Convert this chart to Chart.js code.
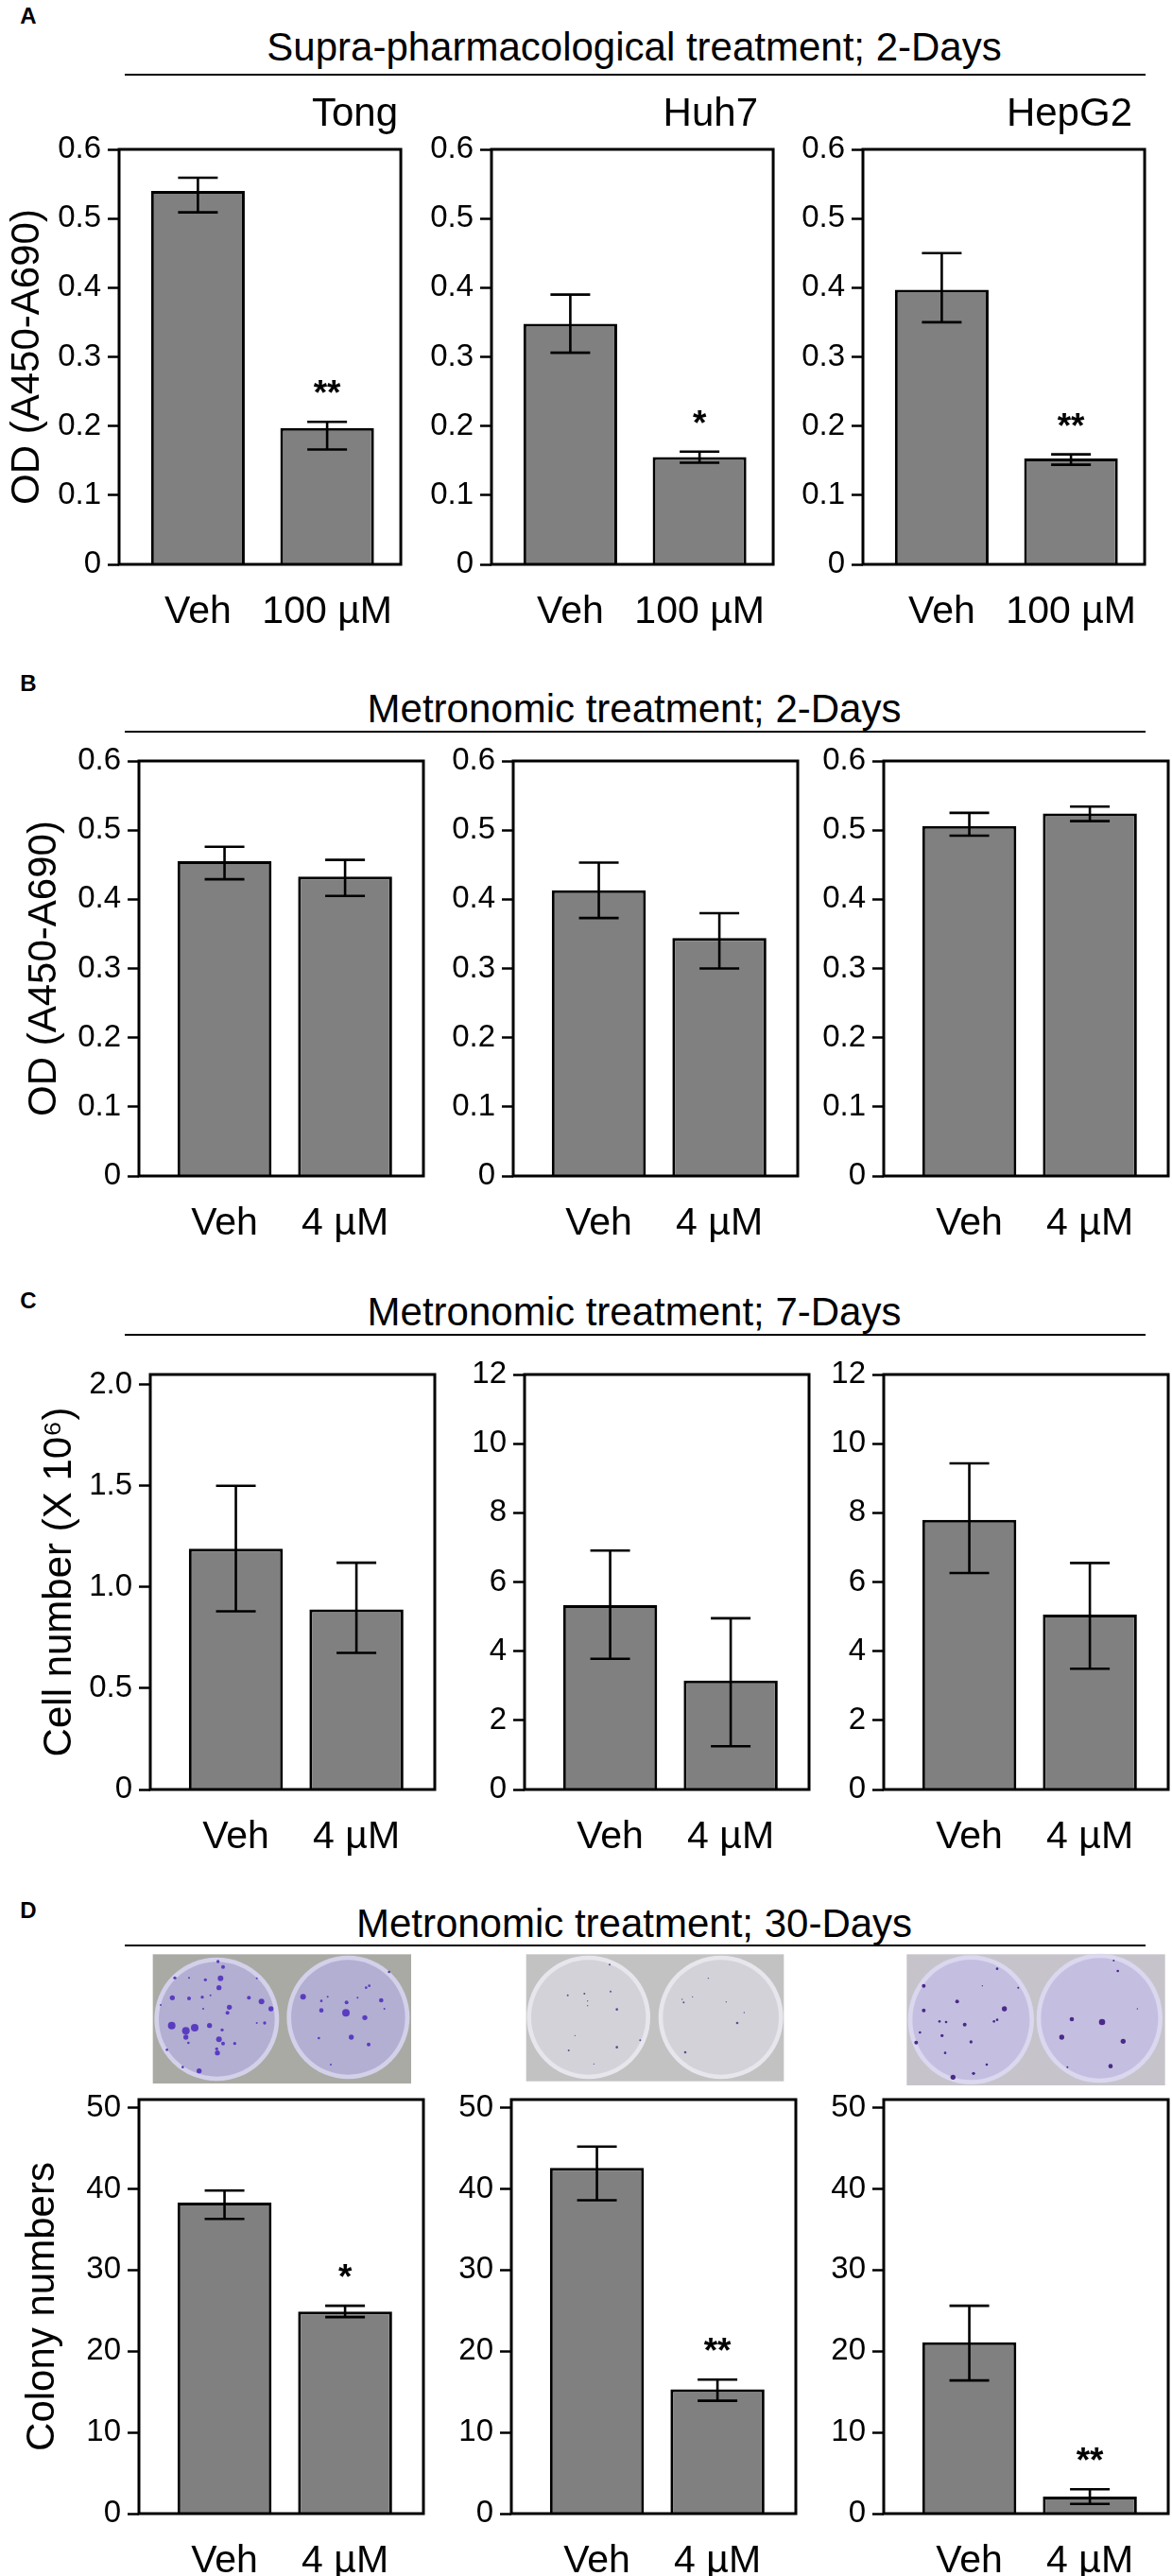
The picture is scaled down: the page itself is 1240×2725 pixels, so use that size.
<!DOCTYPE html>
<html>
<head>
<meta charset="utf-8">
<script src="https://cdn.jsdelivr.net/npm/chart.js@4.4.1/dist/chart.umd.min.js"></script>
<style>
  body { margin: 0; background: #fff; width: 1240px; height: 2725px; position: relative; overflow: hidden;
         font-family: "Liberation Sans", Arial, sans-serif; color: #000; }
  canvas { position: absolute; }
  .hdr { position: absolute; font-size: 42px; line-height: 1; white-space: nowrap; transform: translate(-50%, -50%); }
  .sub { position: absolute; font-size: 42px; line-height: 1; white-space: nowrap; transform: translateY(-50%); text-align: right; }
  .letter { position: absolute; font-size: 24px; font-weight: bold; line-height: 1; transform: translate(-50%, -50%); }
  .rule { position: absolute; height: 0; border-top: 2px solid #000; }
</style>
</head>
<body>

<script>
// ---- data ----
const supraCats = ['Veh', '100 µM'];
const metroCats = ['Veh', '4 µM'];
const cellLines = ['Tong', 'Huh7', 'HepG2'];

// A: supra-pharmacological treatment, 2 days (OD)
const supraMean = [[0.540, 0.197], [0.348, 0.155], [0.397, 0.153]];
const supraHigh = [[0.559, 0.206], [0.390, 0.163], [0.450, 0.159]];
const supraLow  = [[0.509, 0.166], [0.306, 0.147], [0.350, 0.144]];
const supraStars = [['', '**'], ['', '*'], ['', '**']];

// B: metronomic treatment, 2 days (OD)
const metro2Mean = [[0.455, 0.433], [0.413, 0.344], [0.506, 0.524]];
const metro2High = [[0.476, 0.457], [0.453, 0.380], [0.525, 0.534]];
const metro2Low  = [[0.429, 0.405], [0.373, 0.300], [0.492, 0.513]];

// C: metronomic treatment, 7 days (cell number x 10^6)
const metro7Mean = [[1.19, 0.89], [5.33, 3.15], [7.80, 5.06]];
const metro7High = [[1.50, 1.12], [6.91, 4.95], [9.43, 6.55]];
const metro7Low  = [[0.88, 0.675], [3.78, 1.25], [6.26, 3.49]];

// D: metronomic treatment, 30 days (colony numbers)
const colonyMean = [[38.3, 24.9], [42.6, 15.3], [21.1, 2.1]];
const colonyHigh = [[39.8, 25.6], [45.2, 16.5], [25.6, 3.0]];
const colonyLow  = [[36.3, 24.2], [38.6, 13.9], [16.4, 1.2]];
const colonyStars = [['', '*'], ['', '**'], ['', '**']];

const noStars = [['', ''], ['', ''], ['', '']];

// tick labels
const odTicks = ['0', '0.1', '0.2', '0.3', '0.4', '0.5', '0.6'];
const cellTicksSmall = ['0', '0.5', '1.0', '1.5', '2.0'];
const cellTicksLarge = ['0', '2', '4', '6', '8', '10', '12'];
const colonyTicks = ['0', '10', '20', '30', '40', '50'];

// ---- layout ----
const FONT = '"Liberation Sans", Arial, sans-serif';
Chart.defaults.font.family = FONT;
Chart.defaults.color = '#000';

const rows = [
  { top: 158, bottom: 597, lefts: [126, 520, 913], x: [-0.61, 1.57], bar: 0.725, titlePad: 4,
    yTitle: 'OD (A450-A690)', cats: supraCats,
    mean: supraMean, high: supraHigh, low: supraLow, stars: supraStars,
    yMax: [0.6, 0.6, 0.6], ticks: [odTicks, odTicks, odTicks] },
  { top: 805, bottom: 1244, lefts: [147, 543, 935], x: [-0.71, 1.65], bar: 0.78, titlePad: 22,
    yTitle: 'OD (A450-A690)', cats: metroCats,
    mean: metro2Mean, high: metro2High, low: metro2Low, stars: noStars,
    yMax: [0.6, 0.6, 0.6], ticks: [odTicks, odTicks, odTicks] },
  { top: 1454, bottom: 1893, lefts: [159, 555, 935], x: [-0.71, 1.65], bar: 0.78, titlePad: 38,
    yTitle: 'Cell number (X 10\u2076)', cats: metroCats,
    mean: metro7Mean, high: metro7High, low: metro7Low, stars: noStars,
    yMax: [2.05, 12, 12], ticks: [cellTicksSmall, cellTicksLarge, cellTicksLarge] },
  { top: 2221, bottom: 2659, lefts: [147, 541, 935], x: [-0.71, 1.65], bar: 0.78, titlePad: 20,
    yTitle: 'Colony numbers', cats: metroCats,
    mean: colonyMean, high: colonyHigh, low: colonyLow, stars: colonyStars,
    yMax: [51, 51, 51], ticks: [colonyTicks, colonyTicks, colonyTicks] }
];

const BOX_W = 301, PAD_TOP = 30, PAD_RIGHT = 8, X_AXIS_H = 75;

// error bars, significance stars and the plot frame
const errorBars = {
  id: 'errorBars',
  afterDatasetsDraw(chart) {
    const ctx = chart.ctx;
    const y = chart.scales.y;
    const ds = chart.data.datasets[0];
    const meta = chart.getDatasetMeta(0);
    ctx.save();
    ctx.strokeStyle = '#000';
    ctx.fillStyle = '#000';
    ctx.lineWidth = 2.6;
    meta.data.forEach((bar, i) => {
      const hi = y.getPixelForValue(ds.errHigh[i]);
      const lo = y.getPixelForValue(ds.errLow[i]);
      ctx.beginPath();
      ctx.moveTo(bar.x, hi); ctx.lineTo(bar.x, lo);
      ctx.moveTo(bar.x - 21, hi); ctx.lineTo(bar.x + 21, hi);
      ctx.moveTo(bar.x - 21, lo); ctx.lineTo(bar.x + 21, lo);
      ctx.stroke();
      if (ds.stars[i]) {
        ctx.font = 'bold 37px ' + FONT;
        ctx.textAlign = 'center';
        ctx.textBaseline = 'alphabetic';
        ctx.fillText(ds.stars[i], bar.x, hi - 18);
      }
    });
    const a = chart.chartArea;
    ctx.lineWidth = 3;
    ctx.strokeRect(a.left, a.top, a.right - a.left, a.bottom - a.top);
    ctx.restore();
  }
};

rows.forEach((row) => {
  row.lefts.forEach((boxLeft, c) => {
    const yW = c === 0 ? boxLeft : 90;
    const el = document.createElement('canvas');
    const w = yW + BOX_W + PAD_RIGHT;
    const h = PAD_TOP + (row.bottom - row.top) + X_AXIS_H;
    el.width = w; el.height = h;
    el.style.left = (boxLeft - yW) + 'px';
    el.style.top = (row.top - PAD_TOP) + 'px';
    document.body.appendChild(el);

    const tickLabels = row.ticks[c];
    new Chart(el, {
      type: 'bar',
      data: {
        datasets: [{
          data: row.mean[c].map((v, i) => ({ x: i, y: v })),
          errHigh: row.high[c],
          errLow: row.low[c],
          stars: row.stars[c],
          backgroundColor: '#808080',
          borderColor: '#000',
          borderWidth: 3,
          categoryPercentage: 1,
          barPercentage: row.bar
        }]
      },
      options: {
        responsive: false,
        animation: false,
        layout: { padding: { top: PAD_TOP, right: PAD_RIGHT, left: 0, bottom: 0 } },
        plugins: { legend: { display: false }, tooltip: { enabled: false } },
        scales: {
          x: {
            type: 'linear',
            offset: false,
            min: row.x[0], max: row.x[1],
            grid: { display: false },
            border: { display: false },
            afterBuildTicks: (axis) => { axis.ticks = row.cats.map((_, i) => ({ value: i })); },
            afterFit: (axis) => { axis.height = X_AXIS_H; },
            ticks: {
              autoSkip: false, maxRotation: 0, padding: 18,
              font: { size: 41 },
              callback: (v) => row.cats[v]
            }
          },
          y: {
            min: 0, max: row.yMax[c],
            grid: { drawOnChartArea: false, drawTicks: true, tickLength: 12, tickWidth: 2.5, tickColor: '#000' },
            border: { display: false },
            afterBuildTicks: (axis) => { axis.ticks = tickLabels.map(l => ({ value: Number(l) })); },
            afterFit: (axis) => { axis.width = yW; },
            ticks: {
              padding: 7,
              font: { size: 33 },
              callback: (v) => tickLabels.find(l => Number(l) === v)
            },
            title: {
              display: c === 0,
              text: row.yTitle,
              font: { size: 42 },
              padding: { top: row.titlePad, bottom: 0 }
            }
          }
        }
      },
      plugins: [errorBars]
    });
  });
});

// ---- headers ----
const headers = [
  { letter: 'A', ly: 17, text: 'Supra-pharmacological treatment; 2-Days', ty: 50, rule: 79 },
  { letter: 'B', ly: 723, text: 'Metronomic treatment; 2-Days', ty: 750, rule: 774 },
  { letter: 'C', ly: 1376, text: 'Metronomic treatment; 7-Days', ty: 1388, rule: 1412 },
  { letter: 'D', ly: 2021, text: 'Metronomic treatment; 30-Days', ty: 2035, rule: 2058 }
];
headers.forEach(hd => {
  const l = document.createElement('div');
  l.className = 'letter'; l.textContent = hd.letter;
  l.style.left = '30px'; l.style.top = hd.ly + 'px';
  document.body.appendChild(l);
  const t = document.createElement('div');
  t.className = 'hdr'; t.textContent = hd.text;
  t.style.left = '671px'; t.style.top = hd.ty + 'px';
  document.body.appendChild(t);
  const r = document.createElement('div');
  r.className = 'rule';
  r.style.left = '132px'; r.style.width = '1080px'; r.style.top = (hd.rule - 1) + 'px';
  document.body.appendChild(r);
});

// cell line names above panel A
const subRight = [421, 802, 1198];
cellLines.forEach((name, i) => {
  const s = document.createElement('div');
  s.className = 'sub'; s.textContent = name;
  s.style.right = (1240 - subRight[i]) + 'px'; s.style.top = '119px';
  document.body.appendChild(s);
});

// ---- colony plate photos (drawn, coordinates in 3x crop units) ----
const plates = [
  { x: 150, y: 2060, bg: [35, 22, 855, 432], bgColor: '#a9aaa4', fill: '#b3afd3', rim: '#d3d1e9', dotColor: '#5a3cc0',
    dishes: [[238, 228, 198, 196], [655, 222, 195, 196]],
    dots: [[242,45,5],[258,62,6],[250,98,9],[245,128,8],[202,103,5],[105,97,5],[150,97,3],[97,160,8],[150,162,6],
           [192,158,5],[218,152,3],[278,190,8],[340,160,6],[380,172,9],[410,195,8],[195,195,3],[272,208,6],[95,248,12],
           [140,265,12],[168,255,12],[215,248,8],[140,285,8],[255,262,5],[245,292,9],[258,305,6],[295,305,5],[390,240,5],
           [365,240,3],[240,335,8],[238,322,5],[148,303,4],[80,325,4],[182,392,8],[130,380,4],[60,183,3],[365,98,3],
           [512,157,9],[570,170,4],[590,157,3],[570,200,7],[648,208,12],[650,175,6],[708,223,8],[760,168,7],[712,128,4],
           [722,122,4],[685,160,3],[665,285,8],[720,308,6],[562,288,4],[785,78,4],[600,372,3],[770,195,3]] },
  { x: 540, y: 2060, bg: [50, 22, 868, 425], bgColor: '#c2c2c2', fill: '#d3d2d9', rim: '#e6e6ec', dotColor: '#58508f',
    dishes: [[248, 222, 196, 196], [668, 222, 198, 196]],
    dots: [[182,152,3],[235,147,3],[318,140,3],[338,197,4],[245,170,2],[245,185,2],[412,295,3],[338,317,4],
           [185,327,3],[265,370,2],[315,55,3],[205,280,2],
           [628,98,2],[550,175,3],[578,157,2],[685,173,2],[720,240,4],[742,207,2],[555,333,4],[545,165,2]] },
  { x: 940, y: 2060, bg: [58, 22, 878, 438], bgColor: '#c6c4ca', fill: '#c4bfe0', rim: '#dad7ef', dotColor: '#4a2a8a',
    dishes: [[262, 230, 200, 205], [670, 225, 200, 205]],
    dots: [[345,68,4],[112,122,6],[298,122,2],[412,128,3],[218,172,6],[112,200,6],[368,195,8],[162,235,4],[183,237,4],
           [242,245,6],[335,235,4],[345,230,4],[100,270,4],[170,280,5],[88,302,6],[262,300,5],[180,335,4],[312,372,4],
           [270,400,5],[205,412,8],[715,42,3],[728,75,4],[582,228,7],[678,237,10],[550,285,8],[745,298,8],[705,377,7],
           [568,380,3],[790,195,2]] }
];
plates.forEach(p => {
  const cv = document.createElement('canvas');
  cv.width = 300; cv.height = 150;
  cv.style.left = p.x + 'px'; cv.style.top = p.y + 'px';
  document.body.appendChild(cv);
  const ctx = cv.getContext('2d');
  ctx.scale(1 / 3, 1 / 3);
  ctx.fillStyle = p.bgColor;
  ctx.fillRect(p.bg[0], p.bg[1], p.bg[2] - p.bg[0], p.bg[3] - p.bg[1]);
  p.dishes.forEach(d => {
    ctx.beginPath(); ctx.ellipse(d[0], d[1], d[2], d[3], 0, 0, Math.PI * 2);
    ctx.fillStyle = p.rim; ctx.fill();
    ctx.beginPath(); ctx.ellipse(d[0], d[1], d[2] - 14, d[3] - 14, 0, 0, Math.PI * 2);
    ctx.fillStyle = p.fill; ctx.fill();
  });
  ctx.fillStyle = p.dotColor;
  p.dots.forEach(d => {
    ctx.beginPath(); ctx.arc(d[0], d[1], d[2], 0, Math.PI * 2); ctx.fill();
  });
});
</script>
</body>
</html>
